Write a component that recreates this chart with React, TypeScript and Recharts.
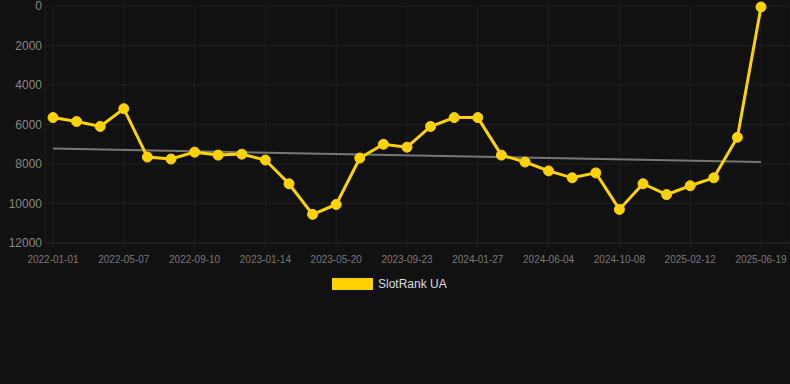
import {
  CartesianGrid,
  Legend,
  Line,
  LineChart,
  ReferenceLine,
  XAxis,
  YAxis,
} from 'recharts';

const dates = [
  '2022-01-01', '2022-02-12', '2022-03-26', '2022-05-07', '2022-06-18', '2022-07-30',
  '2022-09-10', '2022-10-22', '2022-12-03', '2023-01-14', '2023-02-25', '2023-04-08',
  '2023-05-20', '2023-07-01', '2023-08-12', '2023-09-23', '2023-11-04', '2023-12-16',
  '2024-01-27', '2024-03-09', '2024-04-20', '2024-06-04', '2024-07-16', '2024-08-27',
  '2024-10-08', '2024-11-19', '2024-12-31', '2025-02-12', '2025-03-26', '2025-05-07',
  '2025-06-19',
];

const rank = [
  5650, 5850, 6100, 5200, 7650, 7750, 7400, 7550, 7500, 7800, 9000, 10550,
  10050, 7700, 7000, 7150, 6100, 5650, 5650, 7550, 7900, 8350, 8700, 8450,
  10300, 9000, 9550, 9100, 8700, 6650, 50,
];

const yTicks = [0, 2000, 4000, 6000, 8000, 10000, 12000];

// trend line ends
const trendStart = 7220;
const trendEnd = 7900;

const data = dates.map((d, i) => ({ date: d, rank: rank[i] }));

const YELLOW = '#ffd200';

const LegendBox = () => (
  <div style={{ display: 'flex', alignItems: 'center', fontFamily: '"Liberation Sans", Arial, sans-serif', fontSize: 12, color: '#dddddd' }}>
    <span style={{ display: 'inline-block', width: 41, height: 12, background: YELLOW, marginRight: 5 }} />
    <span>SlotRank UA</span>
  </div>
);

export default function App() {
  return (
    <div style={{ width: 790, height: 384, background: '#111111', position: 'relative' }}>
      <style>{'body{margin:0;background:#111111;}'}</style>
      <LineChart
        width={790}
        height={384}
        data={data}
        margin={{ top: 6, right: 0, bottom: 111, left: 0 }}
        style={{ fontFamily: '"Liberation Sans", Arial, sans-serif' }}
      >
        <CartesianGrid stroke="#1e1e1e" strokeWidth={1} />
        <XAxis
          dataKey="date"
          interval={2}
          height={30}
          padding={{ left: 8, right: 29 }}
          axisLine={{ stroke: '#262626' }}
          tickLine={{ stroke: '#262626' }}
          tickSize={4}
          tickMargin={9}
          tick={{ fontSize: 10, fill: '#7a7a7a' }}
        />
        <YAxis
          reversed
          domain={[0, 12000]}
          ticks={yTicks}
          interval={0}
          width={45}
          axisLine={false}
          tickLine={false}
          tickSize={0}
          tickMargin={3}
          tick={{ fontSize: 12, fill: '#888888' }}
        />
        <ReferenceLine
          segment={[
            { x: dates[0], y: trendStart },
            { x: dates[dates.length - 1], y: trendEnd },
          ]}
          stroke="#777777"
          strokeWidth={2}
          ifOverflow="extendDomain"
        />
        <Line
          dataKey="rank"
          name="SlotRank UA"
          stroke={YELLOW}
          strokeWidth={3}
          dot={{ r: 5, fill: YELLOW, stroke: YELLOW, strokeWidth: 1 }}
          isAnimationActive={false}
        />
        <Legend
          verticalAlign="middle"
          align="center"
          content={<LegendBox />}
          wrapperStyle={{ top: 277, left: 332, width: 'auto' }}
        />
      </LineChart>
    </div>
  );
}
